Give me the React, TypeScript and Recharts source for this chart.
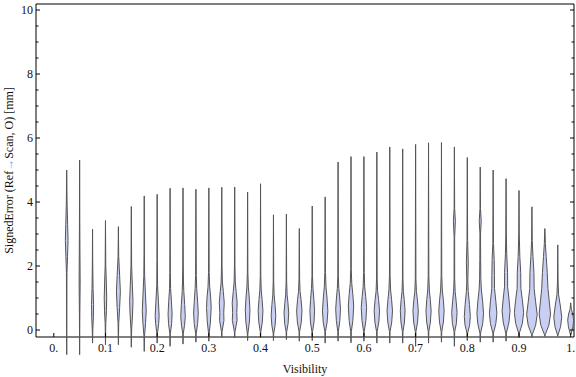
import { ComposedChart, Scatter, XAxis, YAxis, Label } from 'recharts'

// violin centres (Visibility)
const visibility = [
  0.025, 0.05, 0.075, 0.1, 0.125, 0.15, 0.175, 0.2, 0.225, 0.25,
  0.275, 0.3, 0.325, 0.35, 0.375, 0.4, 0.425, 0.45, 0.475, 0.5,
  0.525, 0.55, 0.575, 0.6, 0.625, 0.65, 0.675, 0.7, 0.725, 0.75,
  0.775, 0.8, 0.825, 0.85, 0.875, 0.9, 0.925, 0.95, 0.975, 1.0
]

// largest signed error per bin [mm]
const errorMax = [
  5.0, 5.31, 3.15, 3.42, 3.23, 3.86, 4.19, 4.24, 4.43, 4.44,
  4.4, 4.44, 4.46, 4.47, 4.31, 4.57, 3.6, 3.62, 3.17, 3.875,
  4.16, 5.25, 5.42, 5.42, 5.56, 5.72, 5.66, 5.8, 5.85, 5.86,
  5.72, 5.39, 5.09, 5.0, 4.73, 4.36, 3.85, 3.17, 2.66, 0.85
]

// smallest signed error per bin [mm]
const errorMin = [
  -0.77, -0.77, -0.41, -0.46, -0.46, -0.54, -0.67, -0.41, -0.51, -0.44,
  -0.38, -0.35, -0.23, -0.25, -0.33, -0.25, -0.33, -0.3, -0.35, -0.33,
  -0.41, -0.35, -0.4, -0.35, -0.41, -0.41, -0.41, -0.51, -0.41, -0.38,
  -0.51, -0.33, -0.38, -0.38, -0.35, -0.25, -0.23, -0.2, -0.2, -0.15
]

// density half-width (in 1/1000 of visibility) at error levels [mm]
const profiles: [number, number][][] = [
  [[1.8, 0.5], [2.3, 1.6], [2.8, 2.6], [3.3, 1.8], [3.9, 0.8], [4.4, 0.4]],
  [[0.5, 0.4], [1.5, 1.0], [2.5, 0.6], [3.5, 0.3]],
  [[0, 0.5], [0.4, 1.6], [0.8, 2.0], [1.3, 1.0], [2.0, 0.4]],
  [[0.2, 0.6], [0.6, 1.8], [1.0, 2.4], [1.5, 1.6], [2.0, 0.6]],
  [[0.2, 0.6], [0.7, 2.4], [1.2, 3.8], [1.7, 2.4], [2.3, 0.6]],
  [[0, 0.6], [0.5, 2.4], [0.9, 3.2], [1.4, 2.0], [2.0, 0.6]],
  [[-0.2, 0.5], [0.2, 2.5], [0.6, 3.8], [1.1, 2.4], [1.7, 0.8], [2.4, 0.4]],
  [[-0.1, 0.6], [0.2, 3.0], [0.45, 3.8], [0.9, 2.4], [1.4, 0.8], [2.2, 0.4]],
  [[-0.1, 0.6], [0.2, 3.0], [0.5, 3.9], [0.9, 2.6], [1.3, 1.0], [1.8, 0.5]],
  [[-0.1, 0.6], [0.15, 3.0], [0.42, 4.4], [0.8, 3.2], [1.2, 1.6], [1.5, 0.9], [2.0, 0.5]],
  [[-0.1, 0.6], [0.2, 3.3], [0.53, 4.5], [0.9, 3.2], [1.3, 1.5], [1.7, 0.7]],
  [[-0.1, 0.6], [0.25, 3.0], [0.7, 4.5], [1.0, 3.6], [1.35, 1.6], [1.8, 0.6]],
  [[-0.05, 0.6], [0.3, 4.2], [0.55, 3.8], [0.85, 4.8], [1.2, 3.0], [1.5, 1.2], [2.0, 0.5]],
  [[-0.05, 0.6], [0.3, 4.6], [0.55, 4.0], [0.85, 4.8], [1.2, 2.8], [1.5, 1.1], [2.0, 0.5]],
  [[-0.1, 0.6], [0.25, 3.4], [0.63, 4.5], [1.0, 3.2], [1.35, 1.4], [1.8, 0.5]],
  [[-0.05, 0.6], [0.25, 3.4], [0.6, 4.6], [0.95, 3.0], [1.25, 1.3], [1.7, 0.5]],
  [[-0.1, 0.6], [0.15, 3.2], [0.45, 4.5], [0.8, 3.0], [1.1, 1.3], [1.5, 0.5]],
  [[-0.05, 0.6], [0.2, 3.3], [0.53, 4.5], [0.85, 3.0], [1.1, 1.4], [1.5, 0.5]],
  [[-0.05, 0.6], [0.25, 3.8], [0.6, 5.2], [0.95, 3.4], [1.2, 1.5], [1.6, 0.6]],
  [[-0.05, 0.6], [0.25, 3.4], [0.6, 4.5], [0.95, 3.2], [1.3, 1.4], [1.7, 0.5]],
  [[-0.05, 0.6], [0.25, 3.8], [0.6, 5.2], [1.0, 3.6], [1.35, 1.6], [1.8, 0.6]],
  [[-0.05, 0.6], [0.3, 3.4], [0.65, 4.6], [1.0, 3.2], [1.3, 1.4], [1.7, 0.5]],
  [[-0.05, 0.6], [0.3, 3.6], [0.75, 5.2], [1.1, 3.6], [1.45, 1.5], [1.9, 0.5]],
  [[-0.05, 0.6], [0.3, 3.8], [0.7, 5.2], [1.05, 3.4], [1.35, 1.5], [1.8, 0.6]],
  [[-0.05, 0.6], [0.25, 3.8], [0.6, 5.2], [0.95, 3.4], [1.2, 1.5], [1.6, 0.6]],
  [[-0.05, 0.6], [0.25, 3.8], [0.6, 5.3], [0.95, 3.5], [1.25, 1.6], [1.7, 0.6]],
  [[-0.05, 0.6], [0.25, 3.4], [0.6, 4.6], [0.95, 3.0], [1.2, 1.3], [1.6, 0.5]],
  [[-0.05, 0.6], [0.25, 3.8], [0.6, 5.2], [0.95, 3.4], [1.2, 1.5], [1.6, 0.6]],
  [[-0.05, 0.6], [0.25, 3.6], [0.6, 5.0], [0.95, 3.4], [1.25, 1.5], [1.7, 0.6]],
  [[-0.05, 0.6], [0.25, 3.8], [0.6, 5.2], [0.95, 3.6], [1.25, 1.6], [1.7, 0.6]],
  [[-0.05, 0.6], [0.2, 3.8], [0.55, 5.2], [0.9, 3.4], [1.2, 1.5], [1.6, 0.6], [2.9, 0.5], [3.4, 1.9], [3.8, 0.5]],
  [[-0.1, 0.6], [0.15, 4.4], [0.42, 5.8], [0.8, 4.2], [1.2, 1.8], [1.5, 1.0], [2.1, 1.8], [2.8, 0.6]],
  [[-0.1, 0.6], [0.2, 4.8], [0.52, 6.4], [0.9, 4.6], [1.25, 2.2], [1.6, 1.2], [2.2, 0.8], [3.0, 0.6], [3.4, 1.9], [3.8, 0.5]],
  [[-0.1, 0.6], [0.2, 5.2], [0.52, 7.2], [0.9, 5.2], [1.3, 2.6], [1.7, 2.5], [2.2, 2.0], [2.7, 0.6]],
  [[-0.1, 0.6], [0.25, 5.6], [0.6, 7.7], [1.0, 5.4], [1.35, 3.0], [1.8, 2.9], [2.4, 1.2], [3.0, 0.5]],
  [[-0.1, 0.6], [0.2, 6.4], [0.55, 9.0], [0.95, 6.4], [1.3, 3.6], [1.8, 3.3], [2.3, 1.6], [3.0, 0.5]],
  [[-0.15, 0.6], [0.15, 7.2], [0.48, 10.2], [0.9, 7.0], [1.3, 4.2], [1.8, 3.9], [2.3, 2.0], [2.8, 0.6]],
  [[-0.15, 0.6], [0.15, 7.8], [0.5, 11.0], [0.9, 8.5], [1.3, 6.0], [1.8, 4.6], [2.3, 2.6], [2.7, 1.0], [3.0, 0.5]],
  [[-0.15, 0.6], [0.1, 5.4], [0.4, 7.7], [0.75, 5.0], [1.1, 1.6], [1.5, 0.6]],
  [[-0.1, 1.2], [0.1, 4.4], [0.31, 5.8], [0.5, 4.0], [0.65, 1.2]]
]

const xTicks = [0, 0.1, 0.2, 0.3, 0.4, 0.5, 0.6, 0.7, 0.8, 0.9, 1]
const yTicks = [
  0, 0.5, 1, 1.5, 2, 2.5, 3, 3.5, 4, 4.5, 5, 5.5, 6, 6.5, 7, 7.5, 8, 8.5, 9, 9.5, 10
]

const FONT = '"Liberation Serif", "Times New Roman", serif'
const FILL = '#c9cef3'
const EDGE = '#555'

// outline of each violin: up the right side, down the left side
const violins = visibility.map((v, i) => {
  const knots = profiles[i]
  const right = knots.map(([y, w]) => ({ x: v + w / 1000, y }))
  const left = knots.slice().reverse().map(([y, w]) => ({ x: v - w / 1000, y }))
  return [
    { x: v, y: errorMin[i] },
    ...right,
    { x: v, y: errorMax[i] },
    ...left,
    { x: v, y: errorMin[i] }
  ]
})

const fmtX = (v: number) => (v === 0 ? '0.' : v === 1 ? '1.' : String(v))

const XTick = (props: any) => {
  const { x, y, payload } = props
  return (
    <g>
      <line x1={x} x2={x} y1={y} y2={y - 4} stroke='#000' />
      <text x={x} y={y + 15} textAnchor='middle' fontSize={12} fontFamily={FONT} fill='#111'>
        {fmtX(payload.value)}
      </text>
    </g>
  )
}

const YTick = (props: any) => {
  const { x, y, payload, side } = props
  const major = payload.value % 2 === 0
  const len = major ? 4 : 2.5
  const dir = side === 'left' ? 1 : -1
  return (
    <g>
      <line x1={x} x2={x + dir * len} y1={y} y2={y} stroke='#000' />
      {side === 'left' && major && (
        <text x={x - 3} y={y + 4} textAnchor='end' fontSize={12} fontFamily={FONT} fill='#111'>
          {payload.value}
        </text>
      )}
    </g>
  )
}

const YLabel = (props: any) => {
  const { viewBox } = props
  const cx = viewBox.x + 8.5
  const cy = viewBox.y + viewBox.height / 2
  return (
    <text
      transform={`translate(${cx},${cy}) rotate(-90)`}
      textAnchor='middle'
      dominantBaseline='central'
      fontSize={12}
      fontFamily={FONT}
      fill='#111'
    >
      SignedError (Ref<tspan fill='#4a9fe3'>→</tspan>Scan, O) [mm]
    </text>
  )
}

const XLabel = (props: any) => {
  const { viewBox } = props
  return (
    <text
      x={viewBox.x + viewBox.width / 2}
      y={viewBox.y + 36}
      textAnchor='middle'
      fontSize={12}
      fontFamily={FONT}
      fill='#111'
    >
      Visibility
    </text>
  )
}

const X_DOMAIN: [number, number] = [-0.0344, 1.0064]
const Y_DOMAIN: [number, number] = [-0.21875, 10.1875]

export default function App() {
  return (
    <div style={{ position: 'absolute', left: 0, top: 0, width: 576, height: 377, background: '#fff' }}>
      <style>{'.recharts-scatter{clip-path:none}'}</style>
      <ComposedChart width={576} height={377} margin={{ top: 3, right: 1, bottom: 0, left: 0 }}>
        <XAxis
          type='number'
          dataKey='x'
          domain={X_DOMAIN}
          allowDataOverflow
          ticks={xTicks}
          interval={0}
          height={40}
          tickSize={0}
          tickMargin={0}
          tickLine={false}
          tick={<XTick />}
          axisLine={{ stroke: '#000' }}
        >
          <Label content={<XLabel />} />
        </XAxis>
        <XAxis
          xAxisId='top'
          orientation='top'
          type='number'
          dataKey='x'
          domain={X_DOMAIN}
          allowDataOverflow
          height={1}
          tick={false}
          tickLine={false}
          axisLine={{ stroke: '#000' }}
        />
        <YAxis
          type='number'
          dataKey='y'
          domain={Y_DOMAIN}
          allowDataOverflow
          ticks={yTicks}
          interval={0}
          width={36}
          tickSize={0}
          tickMargin={0}
          tickLine={false}
          tick={<YTick side='left' />}
          axisLine={{ stroke: '#000' }}
        >
          <Label content={<YLabel />} />
        </YAxis>
        <YAxis
          yAxisId='right'
          orientation='right'
          type='number'
          dataKey='y'
          domain={Y_DOMAIN}
          allowDataOverflow
          ticks={yTicks}
          interval={0}
          width={1}
          tickSize={0}
          tickMargin={0}
          tickLine={false}
          tick={<YTick side='right' />}
          axisLine={{ stroke: '#000' }}
        />
        {violins.map((pts, i) => (
          <Scatter
            key={i}
            data={pts}
            fill={FILL}
            line={{ fill: FILL, stroke: EDGE, strokeWidth: 1 }}
            lineType='joint'
            lineJointType='linear'
            shape={() => <g />}
            isAnimationActive={false}
          />
        ))}
      </ComposedChart>
    </div>
  )
}
